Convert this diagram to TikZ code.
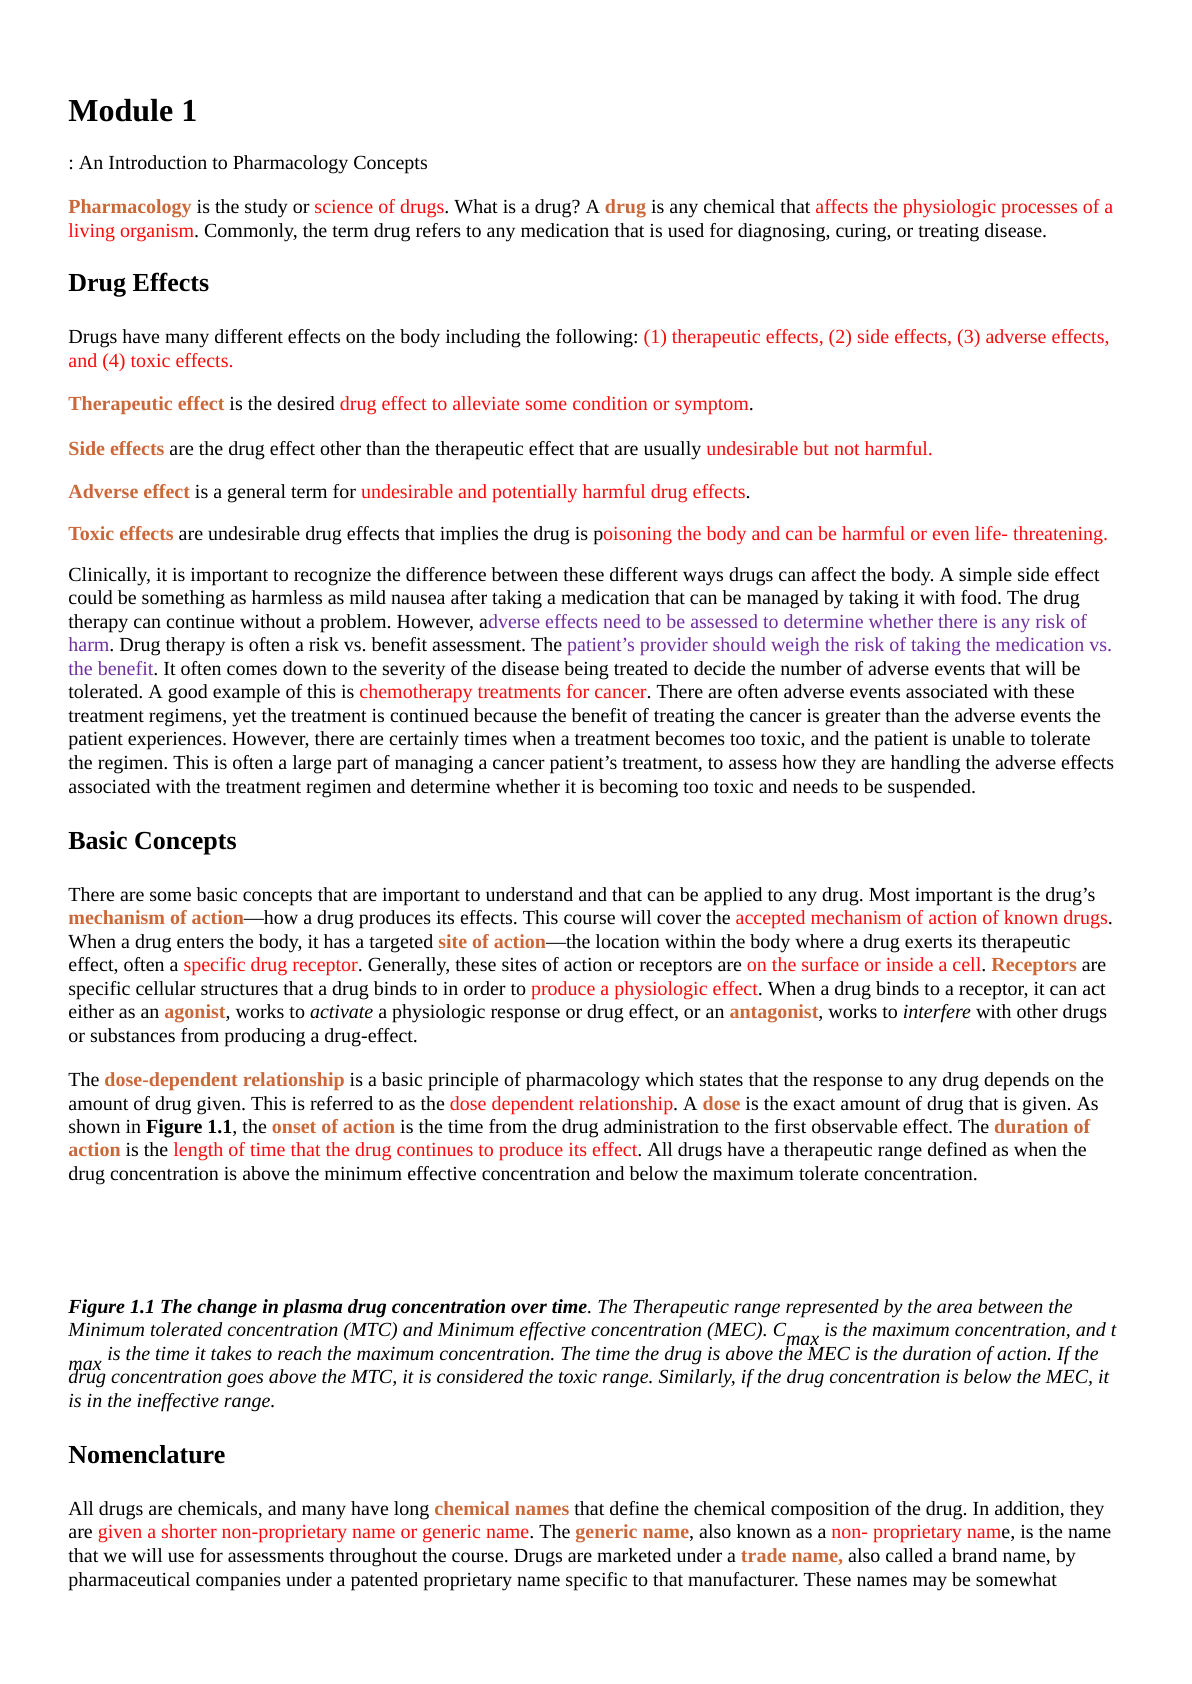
\documentclass[tikz,border=0pt]{standalone}
\usepackage{fontspec}
\setmainfont{Liberation Serif}
\frenchspacing
\definecolor{hl}{RGB}{203,104,58}
\definecolor{rd}{RGB}{250,10,10}
\definecolor{pu}{RGB}{112,48,160}
\newcommand\Kw[1]{\textcolor{hl}{\textbf{#1}}}
\newcommand\Rd[1]{\textcolor{rd}{#1}}
\newcommand\Pu[1]{\textcolor{pu}{#1}}
\tikzset{
  txt/.style={anchor=base west, inner sep=0pt, font=\fontsize{10}{12}\selectfont\frenchspacing},
  captxt/.style={txt, font=\fontsize{10}{12}\selectfont\itshape\frenchspacing},
  head/.style={anchor=base west, inner sep=0pt, font=\fontsize{13}{15}\selectfont\bfseries},
  title/.style={anchor=base west, inner sep=0pt, font=\fontsize{16}{19}\selectfont\bfseries}
}
\newcommand\Tl[3]{\node[txt] (#1) at (68,#2) {#3};}
\begin{document}
\begin{tikzpicture}[x=0.5pt,y=-0.5pt]
\useasboundingbox (0,0) rectangle (1191,1684);
\fill[white] (0,0) rectangle (1191,1684);
\node[title] (t1) at (68,122) {Module 1};
\Tl{s1}{170}{: An Introduction to Pharmacology Concepts}
\Tl{p1}{214}{\Kw{Pharmacology} is the study or \Rd{science of drugs}. What is a drug? A \Kw{drug} is any chemical that \Rd{affects the physiologic processes of a}}
\Tl{p2}{238}{\Rd{living organism}. Commonly, the term drug refers to any medication that is used for diagnosing, curing, or treating disease.}
\node[head] (h1) at (68,292) {Drug Effects};
\Tl{d1}{344}{Drugs have many different effects on the body including the following: \Rd{(1) therapeutic effects, (2) side effects, (3) adverse effects,}}
\Tl{d2}{368}{\Rd{and (4) toxic effects.}}
\Tl{d3}{411}{\Kw{Therapeutic effect} is the desired \Rd{drug effect to alleviate some condition or symptom}.}
\Tl{d4}{456}{\Kw{Side effects} are the drug effect other than the therapeutic effect that are usually \Rd{undesirable but not harmful.}}
\Tl{d5}{498}{\Kw{Adverse effect} is a general term for \Rd{undesirable and potentially harmful drug effects}.}
\Tl{d6}{540}{\Kw{Toxic effects} are undesirable drug effects that implies the drug is p\Rd{oisoning the body and can be harmful or even life- threatening.}}
\Tl{c1}{581}{Clinically, it is important to recognize the difference between these different ways drugs can affect the body. A simple side effect}
\Tl{c2}{604.6}{could be something as harmless as mild nausea after taking a medication that can be managed by taking it with food. The drug}
\Tl{c3}{628.1}{therapy can continue without a problem. However, a\Pu{dverse effects need to be assessed to determine whether there is any risk of}}
\Tl{c4}{651.7}{\Pu{harm}. Drug therapy is often a risk vs. benefit assessment. The \Pu{patient’s provider should weigh the risk of taking the medication vs.}}
\Tl{c5}{675.2}{\Pu{the benefit}. It often comes down to the severity of the disease being treated to decide the number of adverse events that will be}
\Tl{c6}{698.8}{tolerated. A good example of this is \Rd{chemotherapy treatments for cancer}. There are often adverse events associated with these}
\Tl{c7}{722.3}{treatment regimens, yet the treatment is continued because the benefit of treating the cancer is greater than the adverse events the}
\Tl{c8}{745.9}{patient experiences. However, there are certainly times when a treatment becomes too toxic, and the patient is unable to tolerate}
\Tl{c9}{769.4}{the regimen. This is often a large part of managing a cancer patient’s treatment, to assess how they are handling the adverse effects}
\Tl{c10}{793}{associated with the treatment regimen and determine whether it is becoming too toxic and needs to be suspended.}
\node[head] (h2) at (68,849) {Basic Concepts};
\Tl{b1}{901}{There are some basic concepts that are important to understand and that can be applied to any drug. Most important is the drug’s}
\Tl{b2}{924.5}{\Kw{mechanism of action}—how a drug produces its effects. This course will cover the \Rd{accepted mechanism of action of known drugs}.}
\Tl{b3}{948}{When a drug enters the body, it has a targeted \Kw{site of action}—the location within the body where a drug exerts its therapeutic}
\Tl{b4}{971.5}{effect, often a \Rd{specific drug receptor}. Generally, these sites of action or receptors are \Rd{on the surface or inside a cell}. \Kw{Receptors} are}
\Tl{b5}{995}{specific cellular structures that a drug binds to in order to \Rd{produce a physiologic effect}. When a drug binds to a receptor, it can act}
\Tl{b6}{1018.5}{either as an \Kw{agonist}, works to \textit{activate} a physiologic response or drug effect, or an \Kw{antagonist}, works to \textit{interfere} with other drugs}
\Tl{b7}{1042}{or substances from producing a drug-effect.}
\Tl{e1}{1086.5}{The \Kw{dose-dependent relationship} is a basic principle of pharmacology which states that the response to any drug depends on the}
\Tl{e2}{1110}{amount of drug given. This is referred to as the \Rd{dose dependent relationship}. A \Kw{dose} is the exact amount of drug that is given. As}
\Tl{e3}{1133.3}{shown in \textbf{Figure 1.1}, the \Kw{onset of action} is the time from the drug administration to the first observable effect. The \Kw{duration of}}
\Tl{e4}{1156.7}{\Kw{action} is the \Rd{length of time that the drug continues to produce its effect}. All drugs have a therapeutic range defined as when the}
\Tl{e5}{1180}{drug concentration is above the minimum effective concentration and below the maximum tolerate concentration.}
\node[captxt] (f1) at (68,1313) {\textbf{Figure 1.1 The change in plasma drug concentration over time}. The Therapeutic range represented by the area between the};
\node[captxt] (f2) at (68,1336.5) {Minimum tolerated concentration (MTC) and Minimum effective concentration (MEC). C\raisebox{-4.5pt}{max} is the maximum concentration, and t};
\node[captxt] (f3m) at (68,1370) {max};
\node[captxt] (f3) at (107,1360) {is the time it takes to reach the maximum concentration. The time the drug is above the MEC is the duration of action. If the};
\node[captxt] (f4) at (68,1383.5) {drug concentration goes above the MTC, it is considered the toxic range. Similarly, if the drug concentration is below the MEC, it};
\node[captxt] (f5) at (68,1407) {is in the ineffective range.};
\node[head] (h3) at (68,1463) {Nomenclature};
\Tl{n1}{1515}{All drugs are chemicals, and many have long \Kw{chemical names} that define the chemical composition of the drug. In addition, they}
\Tl{n2}{1538.7}{are \Rd{given a shorter non-proprietary name or generic name}. The \Kw{generic name}, also known as a \Rd{non- proprietary nam}e, is the name}
\Tl{n3}{1562.3}{that we will use for assessments throughout the course. Drugs are marketed under a \Kw{trade name,} also called a brand name, by}
\Tl{n4}{1586}{pharmaceutical companies under a patented proprietary name specific to that manufacturer. These names may be somewhat}
\end{tikzpicture}
\end{document}
